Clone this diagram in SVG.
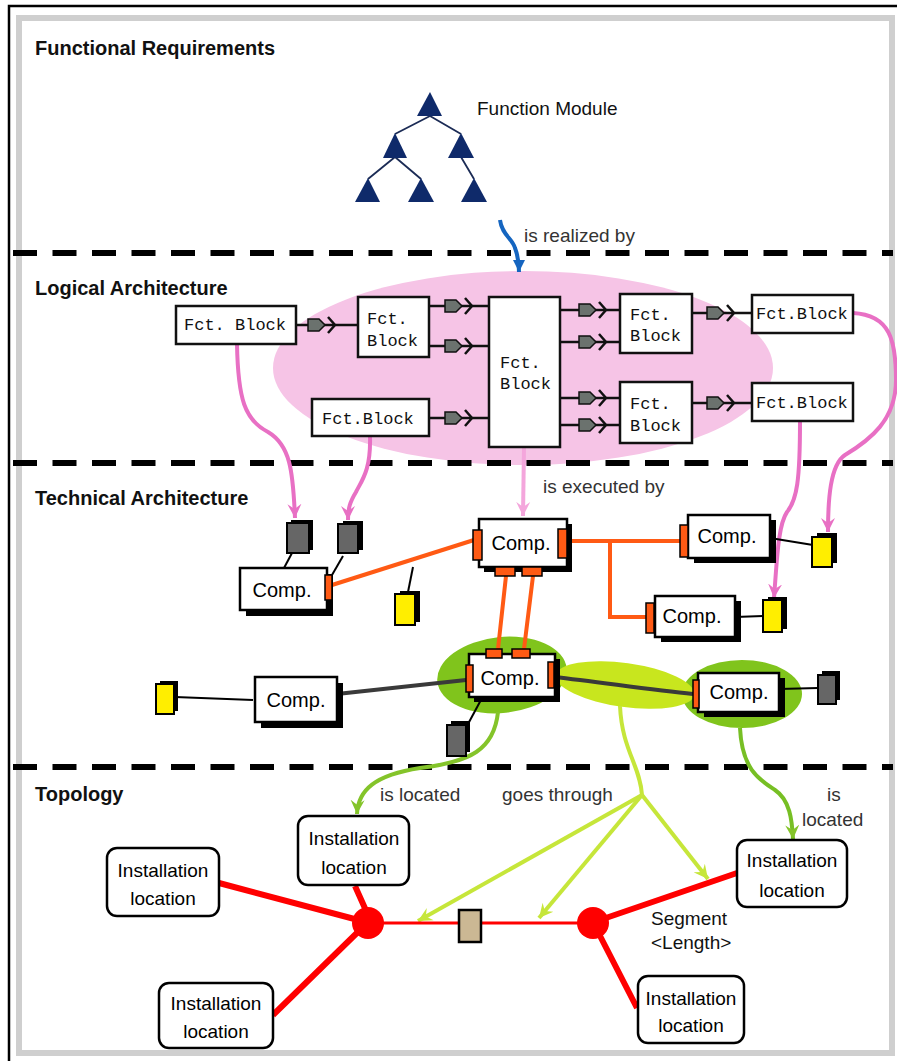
<svg xmlns="http://www.w3.org/2000/svg" width="897" height="1061" viewBox="0 0 897 1061">
<style>
.title{font-family:"Liberation Sans",Arial,sans-serif;font-weight:bold;font-size:20px;fill:#111}
.lbl{font-family:"Liberation Sans",Arial,sans-serif;font-size:19px;fill:#333}
.seg{font-family:"Liberation Sans",Arial,sans-serif;font-size:19px;fill:#111}
.fct{font-family:"Liberation Mono","Courier New",monospace;font-size:17px;fill:#111}
.fbox{fill:#fff;stroke:#111;stroke-width:2.5}
.comp{font-family:"Liberation Sans",Arial,sans-serif;font-size:20px;fill:#000;text-anchor:middle}
.cbox{fill:#fff;stroke:#000;stroke-width:2.5}
.shadow{fill:#000}
.port{fill:#ff5a14;stroke:#000;stroke-width:1.5}
.gdev{fill:#666;stroke:#000;stroke-width:2}
.ydev{fill:#ffee00;stroke:#000;stroke-width:2}
.inst{fill:#fff;stroke:#000;stroke-width:2.5}
.itxt{font-family:"Liberation Sans",Arial,sans-serif;font-size:19px;fill:#000;text-anchor:middle}
.dash{stroke:#000;stroke-width:6;stroke-dasharray:24 15.5;fill:none}
.blk{stroke:#111;stroke-width:2.5;fill:none}
.thin{stroke:#000;stroke-width:2;fill:none}
.orange{stroke:#ff5a14;stroke-width:4;fill:none}
.cable{stroke:#3a3a3a;stroke-width:4;fill:none}
.pink{stroke:#e870c4;stroke-width:4;fill:none;marker-end:url(#apink)}
.pinkl{stroke:#f4a6dc;stroke-width:4;fill:none;marker-end:url(#apinkl)}
.green{stroke:#84c42a;stroke-width:4;fill:none;marker-end:url(#agreen)}
.lime{stroke:#c6e63a;stroke-width:4;fill:none;marker-end:url(#alime)}
.red{stroke:#ff0000;stroke-width:6;fill:none}
.tri{fill:#0f2a6a}
</style>
<defs>
<marker id="apink" markerUnits="userSpaceOnUse" markerWidth="16" markerHeight="16" refX="14" refY="8" orient="auto"><path d="M0,1 L14,8 L0,15 L5,8 Z" fill="#e870c4"/></marker>
<marker id="apinkl" markerUnits="userSpaceOnUse" markerWidth="16" markerHeight="16" refX="14" refY="8" orient="auto"><path d="M0,1 L14,8 L0,15 L5,8 Z" fill="#f4a6dc"/></marker>
<marker id="agreen" markerUnits="userSpaceOnUse" markerWidth="16" markerHeight="16" refX="14" refY="8" orient="auto"><path d="M0,1 L14,8 L0,15 L5,8 Z" fill="#84c42a"/></marker>
<marker id="alime" markerUnits="userSpaceOnUse" markerWidth="16" markerHeight="16" refX="14" refY="8" orient="auto"><path d="M0,1 L14,8 L0,15 L5,8 Z" fill="#c6e63a"/></marker>
<marker id="ablue" markerUnits="userSpaceOnUse" markerWidth="14" markerHeight="14" refX="12" refY="7" orient="auto"><path d="M0,1 L12,7 L0,13 Z" fill="#1565c0"/></marker>
<g id="plug">
<path d="M0,-6 H11 L17,0 L11,6 H0 Z" fill="#6b726e" stroke="#111" stroke-width="1.5"/>
<path d="M20,-8 L27,0 L20,8" fill="none" stroke="#111" stroke-width="2.5"/>
</g>
</defs>

<!-- frame -->
<rect x="0" y="0" width="897" height="1061" fill="#fff"/>
<path d="M9,1061 V6 H897" fill="none" stroke="#000" stroke-width="2.5"/>
<rect x="19" y="18" width="873" height="1035" fill="none" stroke="#cfcfcf" stroke-width="6"/>

<!-- background shapes -->
<ellipse id="logical-area" cx="523" cy="368" rx="250" ry="97" fill="#f6c4e6"/>
<g id="bus-areas">
<ellipse cx="502" cy="675" rx="65" ry="38" fill="#80c41c" transform="rotate(-6 502 675)"/>
<ellipse cx="742" cy="694" rx="60" ry="34" fill="#80c41c"/>
<ellipse cx="625" cy="685" rx="70" ry="22" fill="#c8e61e" transform="rotate(8 625 685)"/>
</g>

<!-- section titles and dashed separators -->
<g id="sections">
<text class="title" x="35" y="55">Functional Requirements</text>
<text class="title" x="35" y="295">Logical Architecture</text>
<text class="title" x="35" y="505">Technical Architecture</text>
<text class="title" x="35" y="801">Topology</text>
<line class="dash" x1="13" y1="253" x2="893" y2="253"/>
<line class="dash" x1="13" y1="463" x2="893" y2="463"/>
<line class="dash" x1="13" y1="767" x2="893" y2="767"/>
</g>

<!-- function module tree -->
<g id="function-module">
<g stroke="#1b2b55" stroke-width="1.8" fill="none">
<path d="M430,116 L395,134 M430,116 L461,134 M395,157 L368,179 M395,157 L421,179 M461,157 L474,179"/>
</g>
<path class="tri" d="M430,92 L442,116 L417,116 Z"/>
<path class="tri" d="M395,133 L407,158 L383,158 Z"/>
<path class="tri" d="M461,133 L474,158 L448,158 Z"/>
<path class="tri" d="M368,178 L380,202 L355,202 Z"/>
<path class="tri" d="M421,178 L434,202 L408,202 Z"/>
<path class="tri" d="M474,178 L487,202 L461,202 Z"/>
<text class="lbl" x="477" y="115" style="fill:#111">Function Module</text>
</g>

<!-- connectors -->
<g id="connectors">
<path d="M500,220 C502,235 512,238 515,248 C518,256 519,262 519,272" stroke="#1565c0" stroke-width="4" fill="none" marker-end="url(#ablue)"/>
<!-- logical links -->
<g class="blk">
<line x1="296" y1="325" x2="358" y2="325"/>
<line x1="429" y1="306" x2="489" y2="306"/>
<line x1="429" y1="346" x2="489" y2="346"/>
<line x1="429" y1="418" x2="489" y2="418"/>
<line x1="560" y1="310" x2="620" y2="310"/>
<line x1="560" y1="342" x2="620" y2="342"/>
<line x1="560" y1="398" x2="620" y2="398"/>
<line x1="560" y1="425" x2="620" y2="425"/>
<line x1="692" y1="313" x2="752" y2="313"/>
<line x1="692" y1="403" x2="752" y2="403"/>
</g>
<use href="#plug" x="308" y="325"/>
<use href="#plug" x="445" y="306"/>
<use href="#plug" x="445" y="346"/>
<use href="#plug" x="445" y="418"/>
<use href="#plug" x="579" y="310"/>
<use href="#plug" x="579" y="342"/>
<use href="#plug" x="579" y="398"/>
<use href="#plug" x="579" y="425"/>
<use href="#plug" x="707" y="313"/>
<use href="#plug" x="707" y="403"/>
<!-- pink mapping -->
<path class="pink" d="M237,344 C238,400 245,420 268,432 C290,445 293,470 295,518"/>
<path class="pink" d="M370,436 C371,470 362,480 356,492 C350,502 348,508 348,520"/>
<path class="pinkl" d="M524,447 L523,516"/>
<path class="pink" d="M800,421 C800,480 797,500 787,512 C778,525 777,560 774,598"/>
<path class="pink" d="M853,313 C890,315 896,340 896,380 C896,420 870,440 845,455 C830,465 828,500 828,532"/>
<!-- technical links -->
<path class="orange" d="M332,585 L474,540"/>
<path class="orange" d="M567,541 H680 M610,541 V617 H646"/>
<path class="orange" d="M506,576 L498,649 M533,576 L524,649"/>
<path class="cable" d="M337,694 L466,680"/>
<path class="cable" d="M554,677 C600,682 650,690 693,694"/>
<path class="thin" d="M253,700 L175,697"/>
<path class="thin" d="M292,553 L284,568"/>
<path class="thin" d="M343,556 L332,575"/>
<path class="thin" d="M408,592 L413,567"/>
<path class="thin" d="M770,538 L813,545"/>
<path class="thin" d="M735,617 L763,616"/>
<path class="thin" d="M779,689 L818,688"/>
<path class="thin" d="M482,698 L468,724"/>
<!-- topology mapping -->
<path class="green" d="M498,712 C494,750 470,762 420,768 C375,775 358,790 357,814"/>
<path class="green" d="M740,728 C742,770 760,780 775,790 C790,800 792,820 793,839" style="stroke:#77bf24"/>
<path d="M620,706 C622,750 640,765 642,795" stroke="#c6e63a" stroke-width="4" fill="none"/>
<path class="lime" d="M642,795 L418,921"/>
<path class="lime" d="M642,795 L539,918"/>
<path class="lime" d="M642,795 L708,879"/>
<!-- red segments -->
<path class="red" d="M219,883 L362,921 M355,886 L368,915 M273,1015 L362,928 M600,920 L737,873 M597,930 L637,1008"/>
<line x1="368" y1="923" x2="593" y2="923" stroke="#ff0000" stroke-width="3"/>
</g>

<!-- labels -->
<g id="labels">
<text class="lbl" x="524" y="242">is realized by</text>
<text class="lbl" x="543" y="493">is executed by</text>
<text class="lbl" x="380" y="801">is located</text>
<text class="lbl" x="502" y="801">goes through</text>
<text class="lbl" x="827" y="801">is</text>
<text class="lbl" x="802" y="826">located</text>
<text class="seg" x="651" y="925">Segment</text>
<text class="seg" x="651" y="949">&lt;Length&gt;</text>
</g>

<!-- logical function blocks -->
<g id="fb1"><rect class="fbox" x="176" y="306" width="120" height="38"/><text class="fct" x="184" y="330">Fct. Block</text></g>
<g id="fb2"><rect class="fbox" x="358" y="297" width="71" height="60"/><text class="fct" x="367" y="324">Fct.</text><text class="fct" x="367" y="346">Block</text></g>
<g id="fb3"><rect class="fbox" x="312" y="399" width="117" height="37"/><text class="fct" x="322" y="424">Fct.Block</text></g>
<g id="fb4"><rect class="fbox" x="489" y="297" width="71" height="150"/><text class="fct" x="500" y="368">Fct.</text><text class="fct" x="500" y="389">Block</text></g>
<g id="fb5"><rect class="fbox" x="620" y="294" width="72" height="59"/><text class="fct" x="630" y="320">Fct.</text><text class="fct" x="630" y="341">Block</text></g>
<g id="fb6"><rect class="fbox" x="620" y="382" width="72" height="61"/><text class="fct" x="630" y="409">Fct.</text><text class="fct" x="630" y="431">Block</text></g>
<g id="fb7"><rect class="fbox" x="752" y="295" width="101" height="38"/><text class="fct" x="756" y="319">Fct.Block</text></g>
<g id="fb8"><rect class="fbox" x="752" y="383" width="101" height="38"/><text class="fct" x="756" y="408">Fct.Block</text></g>

<!-- devices -->
<g id="dev-gray-1"><rect class="shadow" x="291" y="520" width="22" height="30"/><rect class="gdev" x="287" y="523" width="22" height="30"/></g>
<g id="dev-gray-2"><rect class="shadow" x="343" y="521" width="20" height="29"/><rect class="gdev" x="338" y="524" width="20" height="29"/></g>
<g id="dev-yellow-1"><rect class="shadow" x="400" y="591" width="20" height="31"/><rect class="ydev" x="395" y="594" width="20" height="31"/></g>
<g id="dev-yellow-2"><rect class="shadow" x="817" y="533" width="20" height="30"/><rect class="ydev" x="812" y="537" width="20" height="30"/></g>
<g id="dev-yellow-3"><rect class="shadow" x="768" y="597" width="19" height="32"/><rect class="ydev" x="763" y="600" width="19" height="32"/></g>
<g id="dev-yellow-4"><rect class="shadow" x="160" y="681" width="18" height="30"/><rect class="ydev" x="156" y="684" width="18" height="30"/></g>
<g id="dev-gray-3"><rect class="shadow" x="451" y="721" width="19" height="31"/><rect class="gdev" x="447" y="725" width="19" height="31"/></g>
<g id="dev-gray-4"><rect class="shadow" x="822" y="671" width="18" height="29"/><rect class="gdev" x="818" y="675" width="18" height="29"/></g>

<!-- components -->
<g id="comp-a"><rect class="shadow" x="246" y="574" width="87" height="42"/><rect class="cbox" x="240" y="568" width="87" height="42"/><rect class="port" x="325" y="575" width="7" height="25"/><text class="comp" x="282" y="597">Comp.</text></g>
<g id="comp-b"><rect class="shadow" x="484" y="524" width="88" height="48"/><rect class="cbox" x="479" y="519" width="88" height="48"/><rect class="port" x="473" y="530" width="9" height="30"/><rect class="port" x="558" y="529" width="9" height="29"/><rect class="port" x="495" y="567" width="20" height="9"/><rect class="port" x="522" y="567" width="20" height="9"/><text class="comp" x="521" y="550">Comp.</text></g>
<g id="comp-c"><rect class="shadow" x="694" y="520" width="82" height="43"/><rect class="cbox" x="688" y="515" width="82" height="43"/><rect class="port" x="680" y="525" width="8" height="32"/><text class="comp" x="727" y="543">Comp.</text></g>
<g id="comp-d"><rect class="shadow" x="661" y="601" width="80" height="41"/><rect class="cbox" x="655" y="596" width="80" height="41"/><rect class="port" x="646" y="603" width="8" height="30"/><text class="comp" x="692" y="623">Comp.</text></g>
<g id="comp-e"><rect class="shadow" x="474" y="659" width="86" height="43"/><rect class="cbox" x="469" y="654" width="86" height="43"/><rect class="port" x="486" y="649" width="16" height="9"/><rect class="port" x="512" y="649" width="18" height="9"/><rect class="port" x="466" y="665" width="7" height="27"/><rect class="port" x="548" y="662" width="6" height="26"/><text class="comp" x="510" y="685">Comp.</text></g>
<g id="comp-f"><rect class="shadow" x="704" y="678" width="81" height="39"/><rect class="cbox" x="698" y="673" width="81" height="39"/><rect class="port" x="693" y="680" width="6" height="28"/><text class="comp" x="739" y="699">Comp.</text></g>
<g id="comp-g"><rect class="shadow" x="261" y="683" width="82" height="45"/><rect class="cbox" x="255" y="677" width="82" height="45"/><text class="comp" x="296" y="707">Comp.</text></g>

<!-- topology -->
<g id="node-1"><circle cx="368" cy="923" r="16" fill="#ff0000"/></g>
<g id="node-2"><circle cx="593" cy="923" r="16" fill="#ff0000"/></g>
<g id="segment-device"><rect x="459" y="910" width="22" height="32" fill="#cbb894" stroke="#000" stroke-width="2.5"/></g>
<g id="loc-1"><rect class="inst" x="107" y="848" width="112" height="68" rx="10"/><text class="itxt" x="163" y="877">Installation</text><text class="itxt" x="163" y="905">location</text></g>
<g id="loc-2"><rect class="inst" x="298" y="816" width="111" height="69" rx="10"/><text class="itxt" x="354" y="845">Installation</text><text class="itxt" x="354" y="874">location</text></g>
<g id="loc-3"><rect class="inst" x="159" y="983" width="114" height="65" rx="10"/><text class="itxt" x="216" y="1010">Installation</text><text class="itxt" x="216" y="1038">location</text></g>
<g id="loc-4"><rect class="inst" x="737" y="840" width="110" height="67" rx="10"/><text class="itxt" x="792" y="867">Installation</text><text class="itxt" x="792" y="897">location</text></g>
<g id="loc-5"><rect class="inst" x="638" y="976" width="106" height="67" rx="10"/><text class="itxt" x="691" y="1005">Installation</text><text class="itxt" x="691" y="1032">location</text></g>
</svg>
